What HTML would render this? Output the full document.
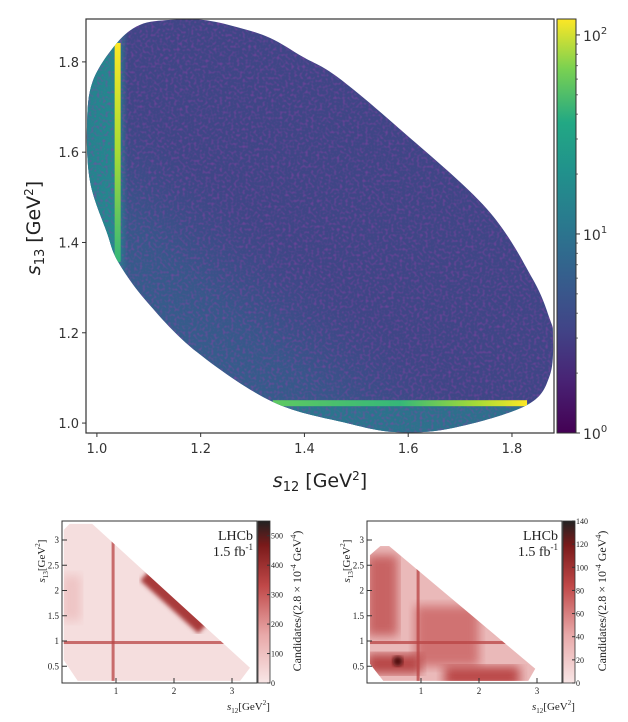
<!DOCTYPE html>
<html><head><meta charset="utf-8">
<style>
body{margin:0;background:#fff;width:628px;height:722px;overflow:hidden}
svg{position:absolute;left:0;top:0}
text{font-family:"DejaVu Sans","Liberation Sans",sans-serif}
.serif{font-family:"Liberation Serif",serif}
</style></head>
<body>
<svg id="c" width="628" height="722" viewBox="0 0 628 722">
<defs>
<linearGradient id="viridis" x1="0" y1="1" x2="0" y2="0">
<stop offset="0" stop-color="#440154"/><stop offset="0.13" stop-color="#482475"/><stop offset="0.25" stop-color="#414487"/>
<stop offset="0.38" stop-color="#355f8d"/><stop offset="0.5" stop-color="#2a788e"/><stop offset="0.63" stop-color="#21918c"/>
<stop offset="0.75" stop-color="#22a884"/><stop offset="0.88" stop-color="#7ad151"/><stop offset="1" stop-color="#fde725"/>
</linearGradient>
<linearGradient id="reds" x1="0" y1="1" x2="0" y2="0">
<stop offset="0" stop-color="#f8e6e6"/><stop offset="0.3" stop-color="#e8a8a8"/><stop offset="0.6" stop-color="#c04848"/>
<stop offset="0.85" stop-color="#7a1a1a"/><stop offset="1" stop-color="#222"/>
</linearGradient>
<linearGradient id="tealdiag" x1="0" y1="1" x2="1" y2="0">
<stop offset="0" stop-color="#2a788e" stop-opacity="0.9"/><stop offset="0.3" stop-color="#31688e" stop-opacity="0.5"/><stop offset="0.45" stop-color="#3b528b" stop-opacity="0"/>
</linearGradient>
<linearGradient id="tealleft" x1="0" y1="0" x2="1" y2="0">
<stop offset="0" stop-color="#26828e"/><stop offset="0.75" stop-color="#23898e"/><stop offset="1" stop-color="#2a788e" stop-opacity="0"/>
</linearGradient>
<linearGradient id="vbandg" x1="0" y1="0" x2="0" y2="1">
<stop offset="0" stop-color="#fde725"/><stop offset="0.5" stop-color="#a5db36"/><stop offset="1" stop-color="#35b779"/>
</linearGradient>
<linearGradient id="hbandg" x1="0" y1="0" x2="1" y2="0">
<stop offset="0" stop-color="#5ec962"/><stop offset="0.5" stop-color="#35b779"/><stop offset="0.8" stop-color="#a5db36"/><stop offset="1" stop-color="#fde725"/>
</linearGradient>
<filter id="grain" x="0" y="0" width="100%" height="100%">
<feTurbulence type="fractalNoise" baseFrequency="0.35" numOctaves="1" seed="3"/>
<feColorMatrix type="matrix" values="0 0 0 0 0.27  0 0 0 0 0.05  0 0 0 0 0.38  1.6 0 0 0 -0.75"/>
</filter>
<filter id="blur2"><feGaussianBlur stdDeviation="2"/></filter>
<filter id="blur4"><feGaussianBlur stdDeviation="5"/></filter>
</defs>
</svg>
<script>
// ---- main Dalitz plot data ----
const xTicks=[1.0,1.2,1.4,1.6,1.8];
const yTicks=[1.0,1.2,1.4,1.6,1.8];
// phase-space boundary (s12, s13)
const boundaryS12=[1.038,0.992,0.981,0.987,1.019,1.041,1.097,1.193,1.339,1.482,1.578,1.686,1.829,1.873,1.879,1.873,1.840,1.752,1.584,1.463,1.397,1.334,1.270,1.204,1.141,1.083];
const boundaryS13=[1.841,1.757,1.660,1.534,1.423,1.357,1.268,1.157,1.047,1.000,0.980,0.989,1.040,1.106,1.195,1.230,1.319,1.474,1.651,1.767,1.811,1.853,1.877,1.893,1.893,1.882];
const vBand={s12:1.040,from:1.357,to:1.842,val:80};
const hBand={s13:1.044,from:1.339,to:1.829,val:70};
const cbTicks=[1,10,100];
const cbLabels=['0','1','2'];
// ---- small LHCb panels ----
const lXTicks=[1,2,3], lYTicks=[0.5,1,1.5,2,2.5,3];
const leftCb=[0,100,200,300,400,500], rightCb=[0,20,40,60,80,100,120,140];
const leftBoundary=[[0.1,3.2],[0.2,3.32],[0.59,3.32],[3.31,0.47],[3.14,0.21],[0.34,0.21],[0.1,0.62]];
const rightBoundary=[[0.12,2.7],[0.3,2.88],[0.45,2.88],[2.97,0.45],[2.85,0.21],[0.35,0.21],[0.12,0.55]];
const leftBands={x:0.95,y:0.97}, rightBands={x:0.95,y:0.97};

const NS='http://www.w3.org/2000/svg', svg=document.getElementById('c');
function el(t,a,p){const e=document.createElementNS(NS,t);for(const k in a)e.setAttribute(k,a[k]);(p||svg).appendChild(e);return e;}
function txt(x,y,s,a,p){const e=el('text',Object.assign({x:x,y:y},a),p);e.textContent=s;return e;}

const X0=86,X1=554,Y0=19,Y1=433;
const xmin=0.979,xmax=1.881,ymin=0.978,ymax=1.895;
const sx=v=>X0+(v-xmin)/(xmax-xmin)*(X1-X0);
const sy=v=>Y1-(v-ymin)/(ymax-ymin)*(Y1-Y0);

const g=el('g',{});

const cp=el('clipPath',{id:'ell'},svg.querySelector('defs'));
(function(){const P=boundaryS12.map((v,i)=>[sx(v),sy(boundaryS13[i])]);const n=P.length;let d='M'+P[0][0]+','+P[0][1];
 for(let i=0;i<n;i++){const p0=P[(i-1+n)%n],p1=P[i],p2=P[(i+1)%n],p3=P[(i+2)%n];
  d+=' C'+(p1[0]+(p2[0]-p0[0])/6)+','+(p1[1]+(p2[1]-p0[1])/6)+' '+(p2[0]-(p3[0]-p1[0])/6)+','+(p2[1]-(p3[1]-p1[1])/6)+' '+p2[0]+','+p2[1];}
 el('path',{d:d+'Z'},cp);})();
const gc=el('g',{'clip-path':'url(#ell)'},g);
el('rect',{x:X0,y:Y0,width:X1-X0,height:Y1-Y0,fill:'#3f4686'},gc);
el('rect',{x:X0,y:Y0,width:X1-X0,height:Y1-Y0,fill:'url(#tealdiag)'},gc);
el('rect',{x:X0,y:Y0,width:sx(vBand.s12+0.02)-X0,height:Y1-Y0,fill:'url(#tealleft)'},gc);
el('rect',{x:X0,y:sy(hBand.s13),width:X1-X0,height:Y1-sy(hBand.s13),fill:'#26828e',opacity:0.7},gc);
el('rect',{x:X0,y:Y0,width:X1-X0,height:Y1-Y0,filter:'url(#grain)'},gc);
const vb=el('rect',{x:sx(vBand.s12)-3,y:sy(vBand.to),width:6,height:sy(vBand.from)-sy(vBand.to),fill:'url(#vbandg)'},gc);

const hb=el('rect',{x:sx(hBand.from),y:sy(hBand.s13)-3,width:sx(hBand.to)-sx(hBand.from),height:6,fill:'url(#hbandg)'},gc);


const fr=el('rect',{x:X0,y:Y0,width:X1-X0,height:Y1-Y0,fill:'none',stroke:'#333','stroke-width':1.2});

xTicks.forEach(v=>{el('line',{x1:sx(v),x2:sx(v),y1:Y1,y2:Y1+4,stroke:'#333'});const t=txt(sx(v),Y1+20,v.toFixed(1),{'text-anchor':'middle','font-size':13,fill:'#333'});
 });
yTicks.forEach(v=>{el('line',{x1:X0-4,x2:X0,y1:sy(v),y2:sy(v),stroke:'#333'});const t=txt(X0-7,sy(v)+5,v.toFixed(1),{'text-anchor':'end','font-size':13,fill:'#333'});
 });
let xt=txt(320,487,'',{'text-anchor':'middle','font-size':19,fill:'#222'});xt.innerHTML='<tspan font-style="italic">s</tspan><tspan font-size="13" dy="4">12</tspan><tspan dy="-4"> [GeV</tspan><tspan font-size="12" dy="-7">2</tspan><tspan dy="7">]</tspan>';

let yt=txt(0,0,'',{'text-anchor':'middle','font-size':19,fill:'#222',transform:'translate(40,228) rotate(-90)'});yt.innerHTML='<tspan font-style="italic">s</tspan><tspan font-size="13" dy="4">13</tspan><tspan dy="-4"> [GeV</tspan><tspan font-size="12" dy="-7">2</tspan><tspan dy="7">]</tspan>';

const cb=el('rect',{x:557,y:Y0,width:19,height:Y1-Y0,fill:'url(#viridis)',stroke:'#333'});

const cy=v=>Y1-Math.log10(v)/2.08*(Y1-Y0);
cbTicks.forEach((v,i)=>{el('line',{x1:576,x2:580,y1:cy(v),y2:cy(v),stroke:'#333'});const t=txt(583,cy(v)+6,'',{'font-size':14,fill:'#333'});
 t.innerHTML='10<tspan font-size="10" dy="-7">'+cbLabels[i]+'</tspan>';});
for(let d=0;d<2;d++)for(let m=2;m<10;m++){const v=m*Math.pow(10,d);el('line',{x1:576,x2:578,y1:cy(v),y2:cy(v),stroke:'#333','stroke-width':0.7});}

function panel(ox,bnd,cbv,cbmax,name,dark,bands){
 const L=ox,R=ox+195,T=521,B=683;
 const px=v=>L+54+(v-1)*58, py=v=>641-(v-1)*50.5;
 const pg=el('g',{});
 const id='cl'+ox;const c=el('clipPath',{id:id},svg.querySelector('defs'));
 el('polygon',{points:bnd.map(p=>px(p[0])+','+py(p[1])).join(' ')},c);
 const gg=el('g',{'clip-path':'url(#'+id+')'},pg);
 el('rect',{x:L,y:T,width:R-L,height:B-T,fill:dark?'#eab9b9':'#f5dede'},gg);
 if(dark){el('rect',{x:L,y:py(2.7),width:px(0.6)-L,height:py(1.1)-py(2.7),fill:'#c86464',filter:'url(#blur4)'},gg);
  el('rect',{x:px(0.9),y:py(1.7),width:px(2.0)-px(0.9),height:py(0.5)-py(1.7),fill:'#d07272',filter:'url(#blur4)'},gg);
  el('rect',{x:L,y:py(0.75),width:px(1.0)-L,height:py(0.35)-py(0.75),fill:'#b84646',filter:'url(#blur4)'},gg);
  el('rect',{x:px(1.4),y:py(0.5),width:px(2.7)-px(1.4),height:py(0.1)-py(0.5),fill:'#bb4848',filter:'url(#blur4)'},gg);
  el('circle',{cx:px(0.6),cy:py(0.6),r:5,fill:'#501010',filter:'url(#blur2)'},gg);}
 else{el('rect',{x:L,y:py(2.3),width:px(0.4)-L,height:py(1.4)-py(2.3),fill:'#eec4c4',filter:'url(#blur4)'},gg);}
 el('rect',{x:px(bands.x)-1.5,y:T,width:3,height:B-T,fill:'#b84444',opacity:0.75},gg);
 el('rect',{x:L,y:py(bands.y)-1.5,width:R-L,height:3,fill:'#b84444',opacity:0.75},gg);
 const e0=dark?[1.5,2.15,2.4,1.2]:[1.5,2.3,2.5,1.25];
 el('line',{x1:px(e0[0]),y1:py(e0[1]),x2:px(e0[2]),y2:py(e0[3]),stroke:'#a83a3a','stroke-width':dark?8:14,filter:'url(#blur2)'},gg);
 el('rect',{x:L,y:T,width:R-L,height:B-T,fill:'none',stroke:'#333','stroke-width':1});
 lXTicks.forEach(v=>{el('line',{x1:px(v),x2:px(v),y1:B,y2:B-5,stroke:'#333'});txt(px(v),B+11,String(v),{'text-anchor':'middle','font-size':9,'class':'serif',fill:'#222'});});
 lYTicks.forEach(v=>{el('line',{x1:L,x2:L+5,y1:py(v),y2:py(v),stroke:'#333'});txt(L-3,py(v)+3,String(v),{'text-anchor':'end','font-size':9,'class':'serif',fill:'#222'});});
 txt(R-4,T+19,'LHCb',{'text-anchor':'end','font-size':14,'class':'serif',fill:'#222'});
 const f=txt(R-4,T+35,'',{'text-anchor':'end','font-size':14,'class':'serif',fill:'#222'});f.innerHTML='1.5 fb<tspan font-size="9" dy="-6">-1</tspan>';
 const xl=txt(R-30,B+27,'',{'font-size':11,'class':'serif',fill:'#222'});xl.innerHTML='<tspan font-style="italic">s</tspan><tspan font-size="7" dy="3">12</tspan><tspan dy="-3">[GeV</tspan><tspan font-size="7" dy="-5">2</tspan><tspan dy="5">]</tspan>';
 const yl=txt(0,0,'',{'font-size':11,'class':'serif',fill:'#222',transform:'translate('+(L-17)+','+(T+40)+') rotate(-90)','text-anchor':'middle'});yl.innerHTML='<tspan font-style="italic">s</tspan><tspan font-size="7" dy="3">13</tspan><tspan dy="-3">[GeV</tspan><tspan font-size="7" dy="-5">2</tspan><tspan dy="5">]</tspan>';
 const cbr=el('rect',{x:R+1,y:T,width:12,height:B-T,fill:'url(#reds)',stroke:'#333','stroke-width':0.8},pg);
 
 cbv.forEach(v=>{const yy=B-v/cbmax*(B-T);el('line',{x1:R+10,x2:R+13,y1:yy,y2:yy,stroke:'#333'});txt(R+14,yy+3,String(v),{'font-size':8,'class':'serif',fill:'#222'},pg);});
 const ct=txt(0,0,'',{'font-size':12,'class':'serif',fill:'#222','text-anchor':'middle',transform:'translate('+(R+44)+','+(T+80)+') rotate(-90)'},pg);
 ct.innerHTML='Candidates/(2.8 × 10<tspan font-size="8" dy="-5">-4</tspan><tspan dy="5"> GeV</tspan><tspan font-size="8" dy="-5">4</tspan><tspan dy="5">)</tspan>';
}
panel(62,leftBoundary,leftCb,550,'lhcb-left-panel',false,leftBands);
panel(367,rightBoundary,rightCb,140,'lhcb-right-panel',true,rightBands);
</script>
</body></html>
